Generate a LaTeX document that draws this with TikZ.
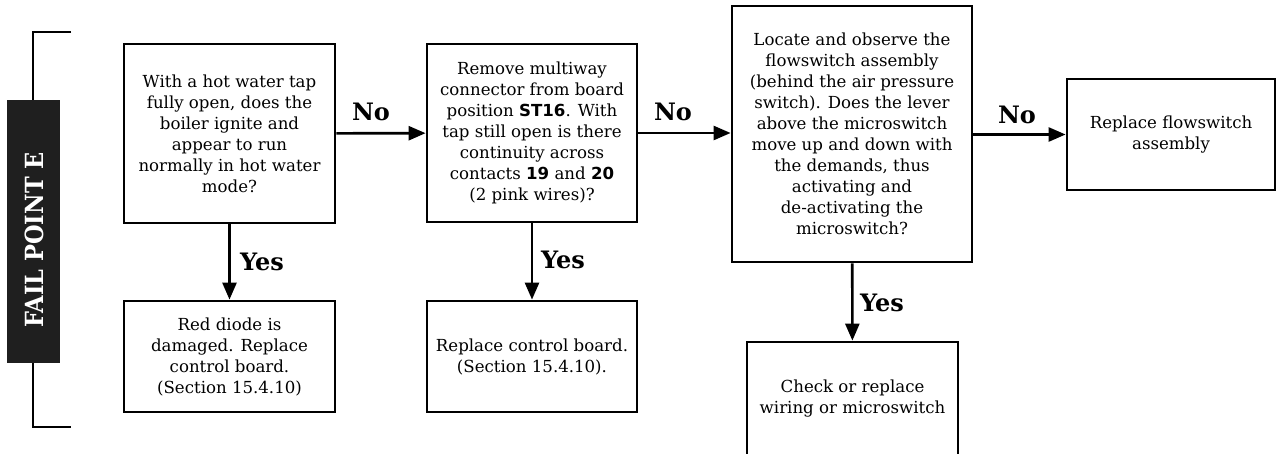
\documentclass[tikz,border=0pt]{standalone}
\usepackage{fontspec}
\usepackage{tikz}
\usetikzlibrary{arrows.meta, positioning}
\newfontfamily\bodyfont{DejaVu Serif}
\newfontfamily\slabfont{DejaVu Serif}
\newfontfamily\condslab{DejaVu Serif Condensed}
\newfontfamily\keyfont{DejaVu Sans}
\newcommand{\kw}[1]{{\keyfont\bfseries #1}}

\begin{document}
\begin{tikzpicture}[
    x=1pt, y=-1pt,
    box/.style={draw, line width=2.8pt, inner sep=0pt, align=center, font=\bodyfont\fontsize{16.6}{21}\selectfont},
    arrow/.style={-{Triangle[length=17pt, width=14pt]}, line width=2.6pt},
    answer/.style={font=\slabfont\bfseries\fontsize{24}{26}\selectfont, inner sep=0pt},
]
    \useasboundingbox (0,0) rectangle (1277,453);

    % Fail point bracket
    \draw[line width=2.4pt] (71,32) -- (33,32) -- (33,427) -- (71,427);
    \fill[black!88] (7,100) rectangle (60,363);
    \node[rotate=90, text=white, font=\condslab\bfseries\fontsize{25}{26}\selectfont] (fail) at (34,240) {FAIL POINT E};

    % Questions
    \node[box, minimum width=211, minimum height=179] (hotwater) at (229.5,133.5) {With a hot water tap\\fully open, does the\\boiler ignite and\\appear to run\\normally in hot water\\mode?};
    \node[box, minimum width=210, minimum height=178] (multiway) at (532,133) {Remove multiway\\connector from board\\position \kw{ST16}. With\\tap still open is there\\continuity across\\contacts \kw{19} and \kw{20}\\(2 pink wires)?};
    \node[box, minimum width=240, minimum height=256] (lever) at (852,134) {Locate and observe the\\flowswitch assembly\\(behind the air pressure\\switch). Does the lever\\above the microswitch\\move up and down with\\the demands, thus\\activating and\\de-activating the\\microswitch?};

    % Actions
    \node[box, minimum width=211, minimum height=111] (diode) at (229.5,356.5) {Red diode is\\damaged. Replace\\control board.\\(Section 15.4.10)};
    \node[box, minimum width=210, minimum height=111] (board) at (532,356.5) {Replace control board.\\(Section 15.4.10).};
    \node[box, minimum width=211, minimum height=114] (wiring) at (852.5,399) {Check or replace\\wiring or microswitch};
    \node[box, minimum width=208, minimum height=111] (flowsw) at (1171,134.5) {Replace flowswitch\\assembly};

    % No branches
    \draw[arrow] (hotwater) -- (multiway);
    \draw[arrow] (multiway) -- (multiway -| lever.west);
    \draw[arrow] (lever.east |- flowsw.west) -- (flowsw);
    \node[answer] (no1) at (371,112) {No};
    \node[answer] (no2) at (673,112) {No};
    \node[answer] (no3) at (1017,115) {No};

    % Yes branches
    \draw[arrow] (hotwater) -- (diode);
    \draw[arrow] (multiway) -- (board);
    \draw[arrow] (lever) -- (wiring);
    \node[answer] (yes1) at (262,262) {Yes};
    \node[answer] (yes2) at (563,260) {Yes};
    \node[answer] (yes3) at (882,303) {Yes};
\end{tikzpicture}
\end{document}
